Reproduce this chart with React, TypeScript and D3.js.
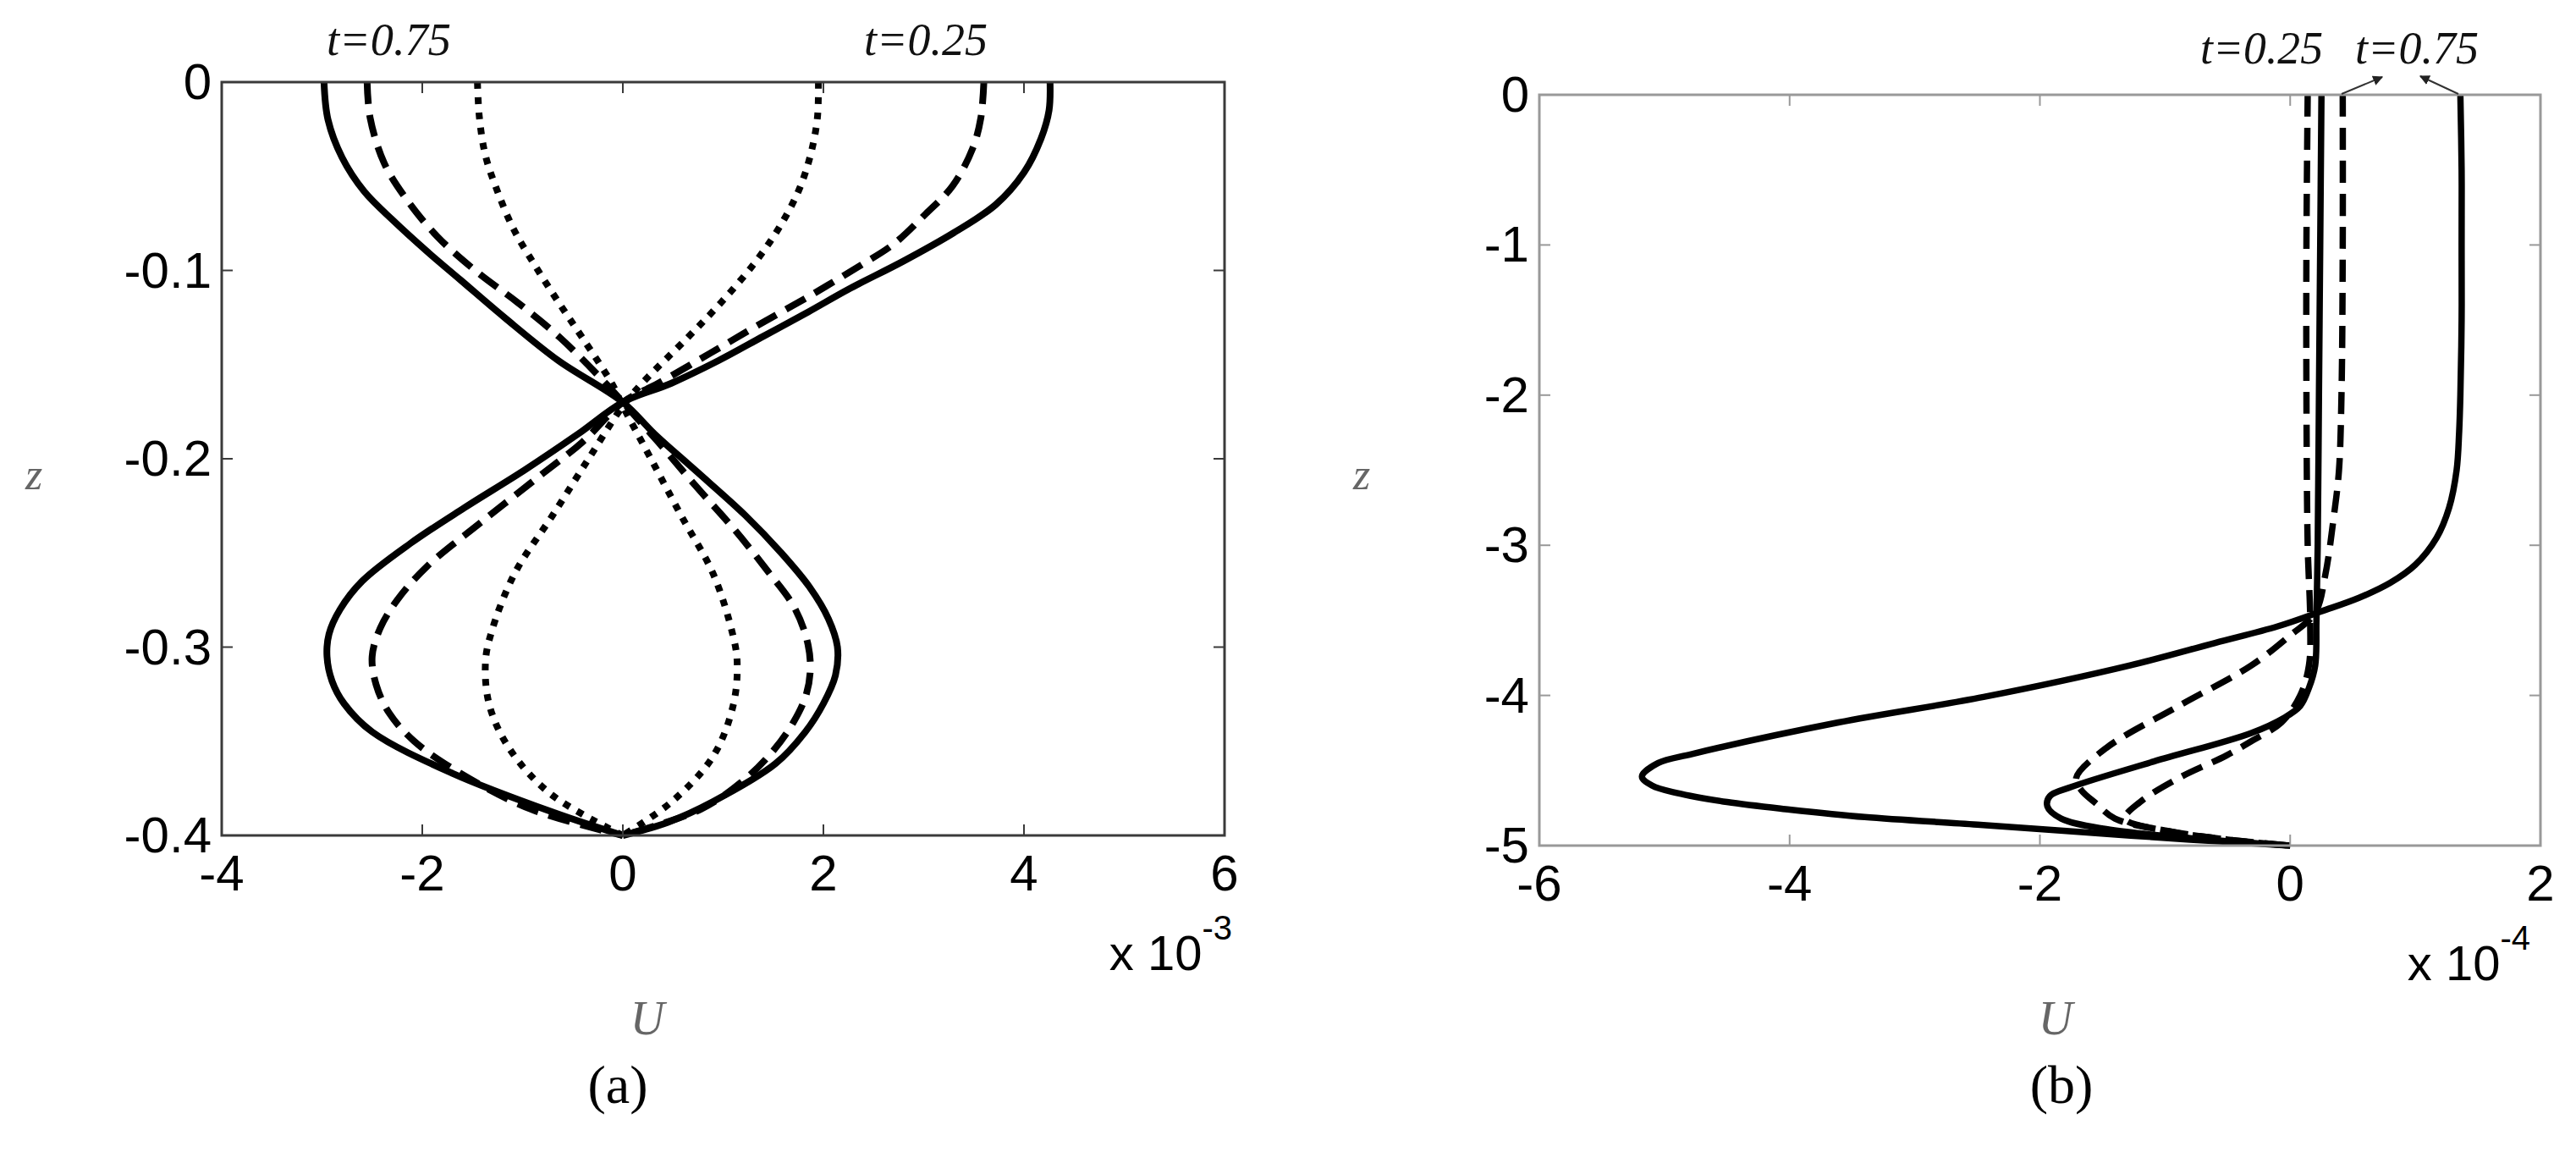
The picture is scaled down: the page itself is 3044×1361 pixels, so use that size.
import * as d3 from 'd3';

// ---- panel (a): [z, U x 1e3] ----
const aSolid025: [number, number][] = [
  [0, 4.26], [-0.015, 4.25], [-0.03, 4.17], [-0.048, 4.0], [-0.065, 3.72], [-0.08, 3.3],
  [-0.095, 2.8], [-0.11, 2.25], [-0.122, 1.85], [-0.135, 1.4], [-0.148, 0.95],
  [-0.16, 0.48], [-0.17, 0], [-0.187, -0.45], [-0.206, -0.98], [-0.226, -1.58],
  [-0.245, -2.12], [-0.265, -2.6], [-0.28, -2.82], [-0.293, -2.93], [-0.305, -2.95],
  [-0.318, -2.9], [-0.33, -2.78], [-0.345, -2.5], [-0.367, -1.7], [-0.388, -0.68], [-0.4, 0],
];
const aSolid075: [number, number][] = [
  [0, -2.98], [-0.02, -2.94], [-0.04, -2.8], [-0.058, -2.58], [-0.074, -2.28],
  [-0.09, -1.95], [-0.105, -1.62], [-0.125, -1.18], [-0.148, -0.64], [-0.17, 0],
  [-0.187, 0.32], [-0.206, 0.72], [-0.23, 1.22], [-0.25, 1.58], [-0.268, 1.86],
  [-0.285, 2.05], [-0.3, 2.14], [-0.315, 2.12], [-0.33, 2.0], [-0.345, 1.82],
  [-0.362, 1.52], [-0.382, 0.9], [-0.393, 0.45], [-0.4, 0],
];
const aDashed025: [number, number][] = [
  [0, 3.6], [-0.019, 3.57], [-0.035, 3.49], [-0.055, 3.29], [-0.07, 3.02], [-0.086, 2.7],
  [-0.097, 2.38], [-0.113, 1.88], [-0.129, 1.35], [-0.144, 0.87], [-0.16, 0.35], [-0.17, 0],
  [-0.191, -0.4], [-0.21, -0.85], [-0.234, -1.42], [-0.257, -1.95], [-0.275, -2.25],
  [-0.29, -2.42], [-0.305, -2.5], [-0.32, -2.46], [-0.335, -2.33], [-0.35, -2.08],
  [-0.366, -1.65], [-0.386, -0.92], [-0.4, 0],
];
const aDashed075: [number, number][] = [
  [0, -2.55], [-0.019, -2.52], [-0.043, -2.38], [-0.062, -2.16], [-0.082, -1.85],
  [-0.101, -1.45], [-0.117, -1.05], [-0.136, -0.62], [-0.16, -0.17], [-0.17, 0],
  [-0.191, 0.35], [-0.214, 0.72], [-0.238, 1.12], [-0.26, 1.45], [-0.278, 1.7],
  [-0.295, 1.83], [-0.31, 1.87], [-0.325, 1.83], [-0.34, 1.7], [-0.355, 1.5],
  [-0.37, 1.22], [-0.386, 0.78], [-0.4, 0],
];
const aDotted025: [number, number][] = [
  [0, 1.95], [-0.019, 1.94], [-0.039, 1.87], [-0.058, 1.75], [-0.078, 1.55],
  [-0.097, 1.3], [-0.117, 0.98], [-0.136, 0.64], [-0.16, 0.19], [-0.172, 0],
  [-0.199, -0.33], [-0.23, -0.7], [-0.261, -1.08], [-0.292, -1.31], [-0.308, -1.37],
  [-0.331, -1.33], [-0.354, -1.13], [-0.378, -0.72], [-0.4, 0],
];
const aDotted075: [number, number][] = [
  [0, -1.45], [-0.019, -1.43], [-0.039, -1.37], [-0.058, -1.25], [-0.078, -1.09],
  [-0.097, -0.88], [-0.117, -0.64], [-0.136, -0.4], [-0.16, -0.11], [-0.172, 0],
  [-0.199, 0.27], [-0.23, 0.58], [-0.261, 0.9], [-0.292, 1.09], [-0.308, 1.14],
  [-0.331, 1.1], [-0.358, 0.9], [-0.382, 0.49], [-0.4, 0],
];
const aXTicks = [-4, -2, 0, 2, 4, 6];
const aYTicks = [0, -0.1, -0.2, -0.3, -0.4];

// ---- panel (b): [z, U x 1e4] ----
const bSolid075: [number, number][] = [
  [0, 1.36], [-0.5, 1.37], [-1, 1.37], [-1.5, 1.37], [-2, 1.36], [-2.25, 1.35],
  [-2.5, 1.33], [-2.75, 1.27], [-2.95, 1.17], [-3.13, 1.0], [-3.25, 0.8], [-3.35, 0.55],
  [-3.44, 0.25], [-3.54, -0.1], [-3.65, -0.6], [-3.8, -1.28], [-4.01, -2.45], [-4.18, -3.61],
  [-4.39, -4.78], [-4.45, -5.05], [-4.54, -5.18], [-4.6, -5.1], [-4.65, -4.9],
  [-4.71, -4.5], [-4.76, -4.0], [-4.81, -3.4], [-4.86, -2.5], [-4.91, -1.67],
  [-4.96, -0.8], [-5, 0],
];
const bSolid025: [number, number][] = [
  [0, 0.25], [-1, 0.24], [-2, 0.23], [-3, 0.22], [-3.5, 0.21], [-3.8, 0.2], [-3.95, 0.15],
  [-4.07, 0.08], [-4.15, -0.05], [-4.25, -0.31], [-4.44, -1.09], [-4.61, -1.75],
  [-4.67, -1.92], [-4.74, -1.94], [-4.82, -1.83], [-4.89, -1.47], [-4.95, -0.8], [-5, 0],
];
const bDashed025: [number, number][] = [
  [0, 0.14], [-1, 0.13], [-2, 0.13], [-3, 0.14], [-3.5, 0.16], [-3.8, 0.15], [-4, 0.08],
  [-4.18, -0.07], [-4.3, -0.3], [-4.4, -0.51], [-4.55, -0.89], [-4.71, -1.2],
  [-4.82, -1.32], [-4.9, -1.0], [-4.96, -0.5], [-5, 0],
];
const bDashed075: [number, number][] = [
  [0, 0.42], [-1, 0.42], [-2, 0.41], [-2.5, 0.39], [-2.8, 0.35], [-3.2, 0.28],
  [-3.45, 0.2], [-3.6, 0], [-3.8, -0.31], [-4.07, -0.89], [-4.35, -1.47], [-4.55, -1.71],
  [-4.63, -1.67], [-4.72, -1.55], [-4.82, -1.4], [-4.9, -1.0], [-4.96, -0.5], [-5, 0],
];
const bXTicks = [-6, -4, -2, 0, 2];
const bYTicks = [0, -1, -2, -3, -4, -5];

const DASH = '26 13';
const DOT = '8 10';

const SANS = '"Liberation Sans", Arial, sans-serif';
const SERIF = '"Liberation Serif", "Times New Roman", serif';

type Series = { pts: [number, number][]; dash?: string };

function Panel({
  left, right, top, bottom, xDomain, yDomain, xTicks, yTicks, series, axisColor, exp,
  expX, zX, uX, tagX, tag, lw,
}: {
  left: number; right: number; top: number; bottom: number;
  xDomain: [number, number]; yDomain: [number, number];
  xTicks: number[]; yTicks: number[]; series: Series[]; axisColor: string; exp: string;
  expX: number; zX: number; uX: number; tagX: number; tag: string; lw: number;
}) {
  const x = d3.scaleLinear().domain(xDomain).range([left, right]);
  const y = d3.scaleLinear().domain(yDomain).range([bottom, top]);
  const line = d3
    .line<[number, number]>()
    .x(d => x(d[1]))
    .y(d => y(d[0]))
    .curve(d3.curveCatmullRom.alpha(0.5));
  const tl = 13;
  return (
    <g>
      {series.map((s, i) => (
        <path
          key={i}
          d={line(s.pts) || ''}
          fill="none"
          stroke="#000"
          strokeWidth={lw}
          strokeDasharray={s.dash}
          strokeLinejoin="round"
        />
      ))}
      <rect x={left} y={top} width={right - left} height={bottom - top} fill="none" stroke={axisColor} strokeWidth={3} />
      {xTicks.map(t => (
        <g key={'x' + t}>
          <line x1={x(t)} x2={x(t)} y1={bottom} y2={bottom - tl} stroke={axisColor} strokeWidth={2} />
          <line x1={x(t)} x2={x(t)} y1={top} y2={top + tl} stroke={axisColor} strokeWidth={2} />
          <text x={x(t)} y={bottom + 65} textAnchor="middle" fontFamily={SANS} fontSize={60}>{String(t)}</text>
        </g>
      ))}
      {yTicks.map(t => (
        <g key={'y' + t}>
          <line x1={left} x2={left + tl} y1={y(t)} y2={y(t)} stroke={axisColor} strokeWidth={2} />
          <line x1={right} x2={right - tl} y1={y(t)} y2={y(t)} stroke={axisColor} strokeWidth={2} />
          <text x={left - 12} y={y(t) + 20} textAnchor="end" fontFamily={SANS} fontSize={60}>{String(t)}</text>
        </g>
      ))}
      <text x={expX} y={bottom + 159} textAnchor="end" fontFamily={SANS} fontSize={58}>
        <tspan>x 10</tspan>
        <tspan dy={-36} fontSize={40}>{exp}</tspan>
      </text>
      <text x={zX} y={578} textAnchor="middle" fontFamily={SERIF} fontStyle="italic" fontSize={52} fill="#666">z</text>
      <text x={uX} y={1222} textAnchor="middle" fontFamily={SERIF} fontStyle="italic" fontSize={56} fill="#666">U</text>
      <text x={tagX} y={1303} textAnchor="middle" fontFamily={SERIF} fontSize={64}>{tag}</text>
    </g>
  );
}

export default function App() {
  return (
    <svg
      width={3044}
      height={1361}
      viewBox="0 0 3044 1361"
      style={{ position: 'absolute', left: 0, top: 0, background: '#fff' }}
    >
      <defs>
        <marker id="ah" viewBox="0 0 10 10" refX="9" refY="5" markerWidth="6" markerHeight="6" orient="auto">
          <path d="M0,0 L10,5 L0,10 z" fill="#222" />
        </marker>
      </defs>
      <rect width={3044} height={1361} fill="#fff" />
      <Panel
        left={262} right={1447} top={97} bottom={987}
        xDomain={[-4, 6]} yDomain={[-0.4, 0]} xTicks={aXTicks} yTicks={aYTicks}
        axisColor="#3a3a3a" exp="-3" expX={1456} zX={40} uX={765} tagX={730} tag="(a)" lw={8}
        series={[
          { pts: aSolid025 }, { pts: aSolid075 },
          { pts: aDashed025, dash: DASH }, { pts: aDashed075, dash: DASH },
          { pts: aDotted025, dash: DOT }, { pts: aDotted075, dash: DOT },
        ]}
      />
      <Panel
        left={1819} right={3002} top={112} bottom={999}
        xDomain={[-6, 2]} yDomain={[-5, 0]} xTicks={bXTicks} yTicks={bYTicks}
        axisColor="#999" exp="-4" expX={2990} zX={1609} uX={2429} tagX={2436} tag="(b)" lw={7.5}
        series={[
          { pts: bSolid075 }, { pts: bSolid025 },
          { pts: bDashed025, dash: DASH }, { pts: bDashed075, dash: DASH },
        ]}
      />
      <g fontFamily={SERIF} fontStyle="italic" fontSize={54} fill="#111">
        <text x={386} y={65} textLength={147} lengthAdjust="spacingAndGlyphs">t=0.75</text>
        <text x={1021} y={65} textLength={146} lengthAdjust="spacingAndGlyphs">t=0.25</text>
        <text x={2600} y={75} textLength={145} lengthAdjust="spacingAndGlyphs">t=0.25</text>
        <text x={2783} y={75} textLength={146} lengthAdjust="spacingAndGlyphs">t=0.75</text>
      </g>
      <line x1={2767} y1={111} x2={2815} y2={91} stroke="#333" strokeWidth={2} markerEnd="url(#ah)" />
      <line x1={2905} y1={111} x2={2860} y2={90} stroke="#333" strokeWidth={2} markerEnd="url(#ah)" />
    </svg>
  );
}
